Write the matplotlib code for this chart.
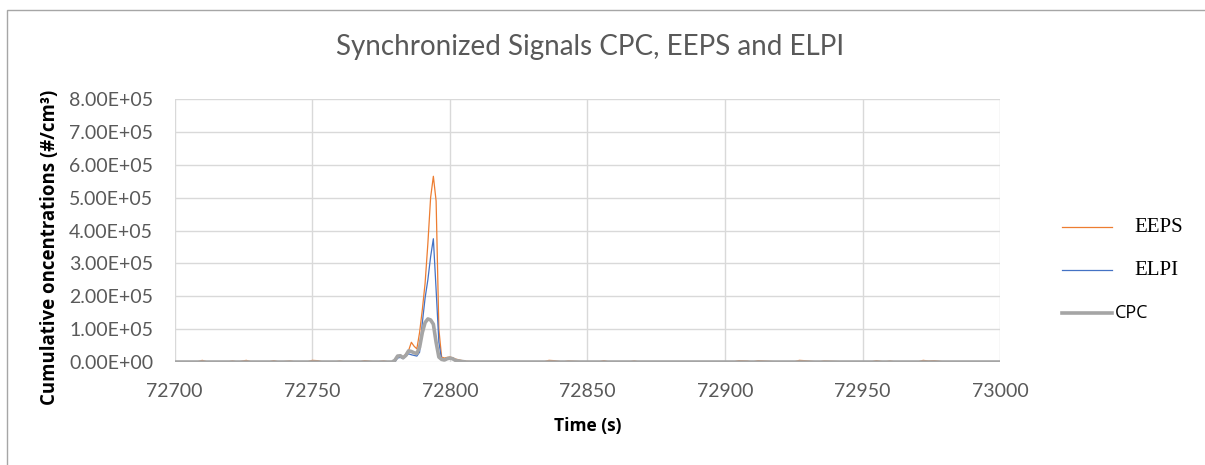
import matplotlib.pyplot as plt
from matplotlib.lines import Line2D
from matplotlib.patches import Rectangle
from matplotlib.ticker import FuncFormatter

# time (s) and concentrations (#/cm3)
time = [72700, 72708, 72710, 72712, 72719, 72721, 72723, 72726, 72728, 72734, 72736, 72738,
        72742, 72744, 72748, 72750, 72752, 72754, 72758, 72760, 72762, 72767, 72769, 72773,
        72776, 72778, 72779,
        72780, 72781, 72782, 72783, 72784, 72785, 72786, 72787, 72788, 72789, 72790, 72791,
        72792, 72793, 72794, 72795, 72796, 72797, 72798, 72799, 72800, 72801, 72802, 72804,
        72806, 72810, 72815, 72820, 72830, 72834, 72836, 72838, 72841, 72843, 72850, 72854,
        72856, 72858, 72865, 72867, 72869, 72880, 72900, 72903, 72905, 72908, 72910, 72912,
        72920, 72925, 72927, 72929, 72934, 72936, 72945, 72950, 72953, 72955, 72958, 72960,
        72962, 72970, 72972, 72974, 72976, 72980, 72985, 72990, 73000]
eeps = [0, 0, 5e3, 0, 0, 3e3, 0, 5e3, 0, 0, 4e3, 0,
        3e3, 0, 0, 5e3, 4e3, 0, 0, 3e3, 0, 0, 4e3, 0,
        3e3, 0, 0,
        3e3, 1.5e4, 1.6e4, 1.4e4, 2.5e4, 3.5e4, 6.0e4, 4.8e4, 4.0e4, 9.0e4, 1.6e5, 2.4e5,
        3.6e5, 5.0e5, 5.65e5, 4.9e5, 1.0e5, 1.5e4, 1.2e4, 1.4e4, 1.5e4, 1.3e4, 9e3, 5e3,
        2e3, 0, 0, 0, 0, 0, 5e3, 4e3, 0, 3e3, 0, 0,
        4e3, 0, 0, 3e3, 0, 0, 0, 0, 4e3, 3e3, 0, 4e3,
        0, 0, 5e3, 4e3, 0, 3e3, 0, 0, 0, 4e3, 0, 3e3,
        0, 0, 5e3, 3e3, 4e3, 0, 0, 0, 0]
elpi = [0] * 27 + [
        0, 1.2e4, 1.4e4, 1.0e4, 1.8e4, 2.5e4, 2.2e4, 2.0e4, 1.8e4, 3.0e4, 1.2e5, 1.95e5,
        2.5e5, 3.2e5, 3.75e5, 2.2e5, 6.0e4, 8e3, 5e3, 8e3, 1.0e4, 8e3, 4e3, 1e3,
        0] + [0] * 44
cpc = [0] * 27 + [
        5e3, 1.8e4, 1.9e4, 1.3e4, 2.0e4, 3.4e4, 3.2e4, 2.8e4, 2.6e4, 4.5e4, 9.0e4, 1.2e5,
        1.31e5, 1.28e5, 1.15e5, 6.0e4, 1.5e4, 8e3, 6e3, 1.0e4, 1.2e4, 1.0e4, 5e3, 2e3,
        0] + [0] * 44

series = ['EEPS', 'ELPI', 'CPC']
colors = ['#ED7D31', '#4472C4', '#A5A5A5']
widths = [0.9, 0.9, 2.6]

fig = plt.figure(figsize=(12.05, 4.65), dpi=100)
ax = fig.add_axes([0.145, 0.2215, 0.685, 0.5655])

for name, vals, c, w in zip(series, [eeps, elpi, cpc], colors, widths):
    ax.plot(time, vals, color=c, lw=w, label=name, solid_joinstyle='round')

ax.set_xlim(72700, 73000)
ax.set_ylim(0, 8e5)
ax.set_xticks(range(72700, 73001, 50))
ax.set_yticks([i * 1e5 for i in range(9)])
ax.yaxis.set_major_formatter(FuncFormatter(lambda v, p: '%.2fE+05' % (v / 1e5) if v else '0.00E+00'))
ax.grid(True, color='#D9D9D9', lw=1)
ax.set_axisbelow(True)
for s in ax.spines.values():
    s.set_visible(False)
ax.tick_params(length=0, labelsize=14, labelcolor='#595959')
ax.tick_params(axis='y', pad=15.5)
ax.tick_params(axis='x', pad=15)
for lab in ax.get_xticklabels() + ax.get_yticklabels():
    lab.set_fontfamily('Lato')

ax.set_xlabel('Time (s)', fontsize=12.5, fontweight='bold', family='Open Sans', labelpad=12)
ax.set_ylabel('Cumulative oncentrations (#/cm³)', fontsize=13.4, fontweight='bold',
              family='Open Sans')
ax.yaxis.set_label_coords(-0.139, 0.437)
fig.text(0.49, 0.90, 'Synchronized Signals CPC, EEPS and ELPI', ha='center', va='center',
         fontsize=20, color='#595959', family='Lato')

# legend drawn by hand, Excel style
leg_y = [1 - 227 / 465, 1 - 270 / 465, 1 - 313 / 465]
for i, (name, c, w) in enumerate(zip(series, colors, widths)):
    x1 = 0.923
    fig.add_artist(Line2D([0.881, x1], [leg_y[i], leg_y[i]], color=c, lw=w,
                          transform=fig.transFigure))
    if name == 'CPC':
        fig.text(x1 + 0.002, leg_y[i], name, va='center', ha='left', fontsize=13,
                 family='Open Sans')
    else:
        fig.text(0.941, leg_y[i], name, va='center', ha='left', fontsize=15,
                 family='Liberation Serif')

fig.patches.append(Rectangle((0.006, -0.1), 1.1, 1.078, transform=fig.transFigure,
                             fill=False, edgecolor='#A6A6A6', lw=1))

fig.savefig('out.png', dpi=100)
